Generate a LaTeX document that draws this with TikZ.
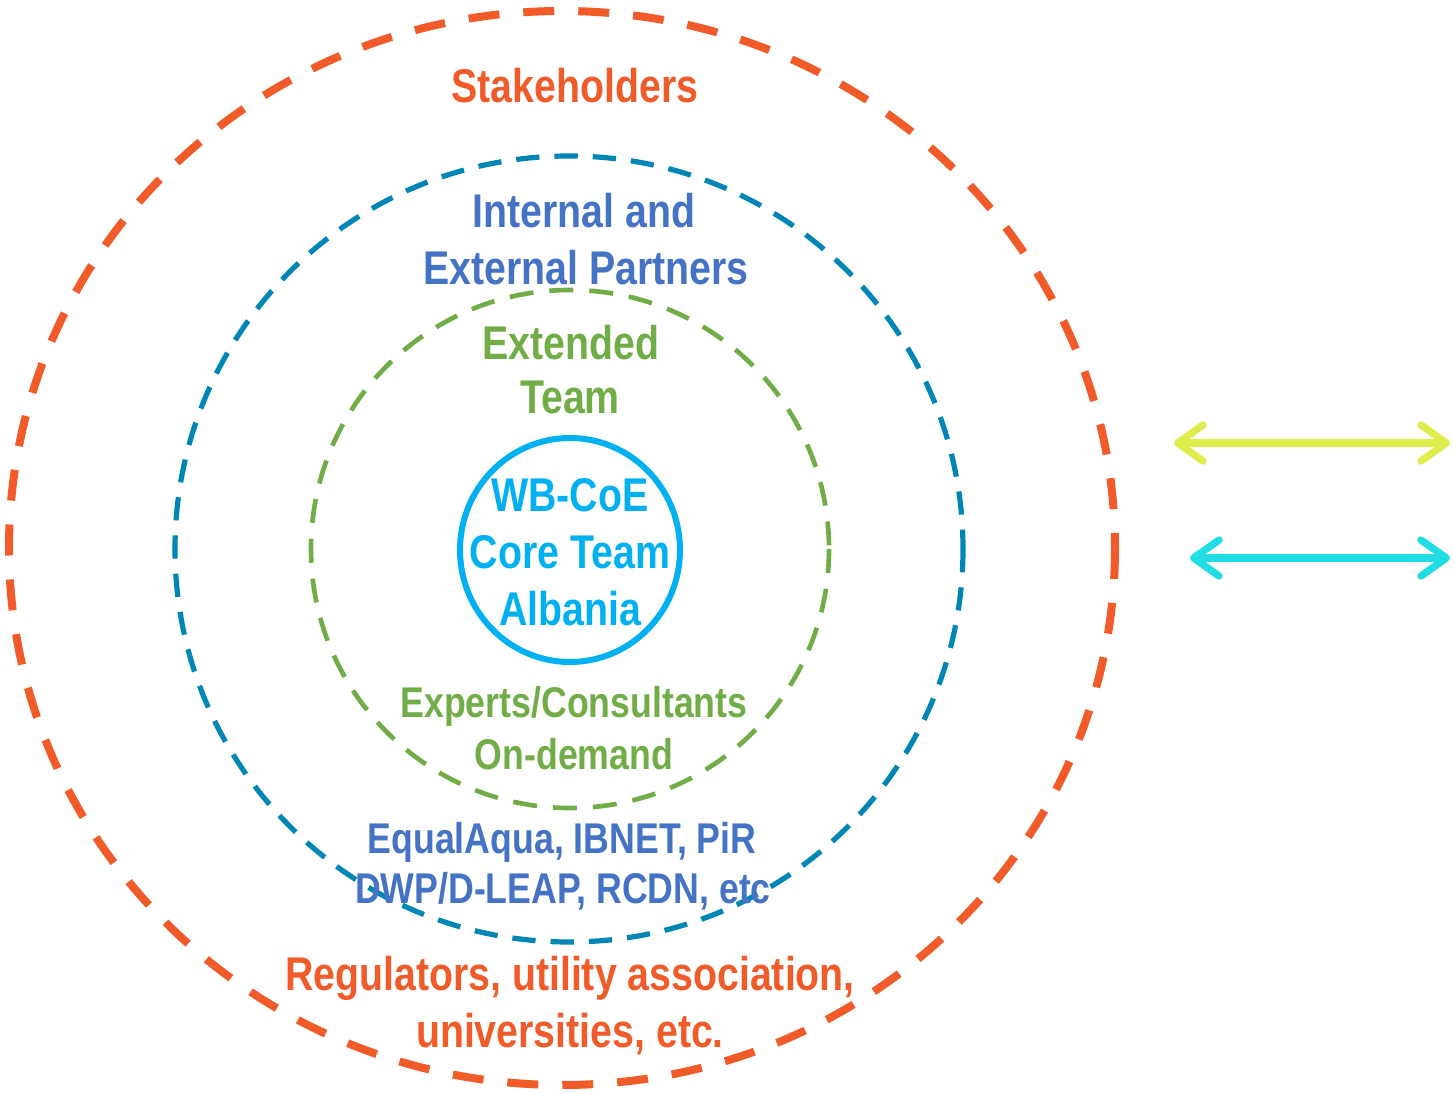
\documentclass[tikz,border=0pt]{standalone}
\usepackage{fontspec}
\newfontfamily\nb[FakeStretch=0.83]{Liberation Sans}
\usetikzlibrary{arrows.meta}
\definecolor{cRed}{RGB}{241,90,41}
\definecolor{cBlueRing}{RGB}{0,134,180}
\definecolor{cBlueText}{RGB}{68,114,196}
\definecolor{cGreen}{RGB}{112,173,71}
\definecolor{cCyan}{RGB}{0,176,240}
\definecolor{cYellow}{RGB}{222,237,77}
\definecolor{cTeal}{RGB}{31,221,227}
\begin{document}
\begin{tikzpicture}[x=0.75pt,y=-0.75pt,
  bigtxt/.style={anchor=base,inner sep=0pt,font=\nb\bfseries\fontsize{35.5}{42}\selectfont},
  smalltxt/.style={anchor=base,inner sep=0pt,font=\nb\bfseries\fontsize{32.25}{39}\selectfont},
  redring/.style={draw=cRed,line width=6pt,dash pattern=on 23.25pt off 18pt},
  bluering/.style={draw=cBlueRing,line width=3.9pt,dash pattern=on 17.5pt off 11.25pt},
  greenring/.style={draw=cGreen,line width=3.5pt,dash pattern=on 18pt off 12pt},
  corering/.style={draw=cCyan,line width=4.5pt},
  dblarrow/.style={line width=5.5pt,arrows={Straight Barb[round,length=19pt,width=27pt]-Straight Barb[round,length=19pt,width=27pt]}}
]
\useasboundingbox (0,0) rectangle (1454,1094);
% rings
\coordinate (cR) at (562,548);
\coordinate (cB) at (569,549);
\coordinate (cG) at (570,549);
\coordinate (cC) at (570,550);
\draw[redring] (cR) ellipse [x radius=553, y radius=537];
\draw[bluering] (cB) ellipse [x radius=394, y radius=393];
\draw[greenring] (cG) ellipse [x radius=259, y radius=259];
\draw[corering] (cC) ellipse [x radius=110, y radius=112];
% texts
\node[bigtxt,text=cRed] (stake) at (575,103) {Stakeholders};
\node[bigtxt,text=cBlueText] (int1) at (584,228) {Internal and};
\node[bigtxt,text=cBlueText] (int2) at (586,285) {External Partners};
\node[bigtxt,text=cGreen] (ext1) at (571,360) {Extended};
\node[bigtxt,text=cGreen] (ext2) at (570,414) {Team};
\node[bigtxt,text=cCyan] (core1) at (570,512) {WB-CoE};
\node[bigtxt,text=cCyan] (core2) at (570,569) {Core Team};
\node[bigtxt,text=cCyan] (core3) at (570,626) {Albania};
\node[smalltxt,text=cGreen] (exp1) at (574,717) {Experts/Consultants};
\node[smalltxt,text=cGreen] (exp2) at (574,769) {On-demand};
\node[smalltxt,text=cBlueText] (eq1) at (562,853) {EqualAqua, IBNET, PiR};
\node[smalltxt,text=cBlueText] (eq2) at (563,903) {DWP/D-LEAP, RCDN, etc};
\node[bigtxt,text=cRed] (reg1) at (570,990) {Regulators, utility association,};
\node[bigtxt,text=cRed] (reg2) at (570,1047) {universities, etc.};
% arrows
\coordinate (yA) at (1174,443);
\coordinate (yB) at (1450,443);
\coordinate (tA) at (1190,558);
\coordinate (tB) at (1450,558);
\draw[dblarrow,draw=cYellow] (yA) -- (yB);
\draw[dblarrow,draw=cTeal] (tA) -- (tB);
\end{tikzpicture}
\end{document}
